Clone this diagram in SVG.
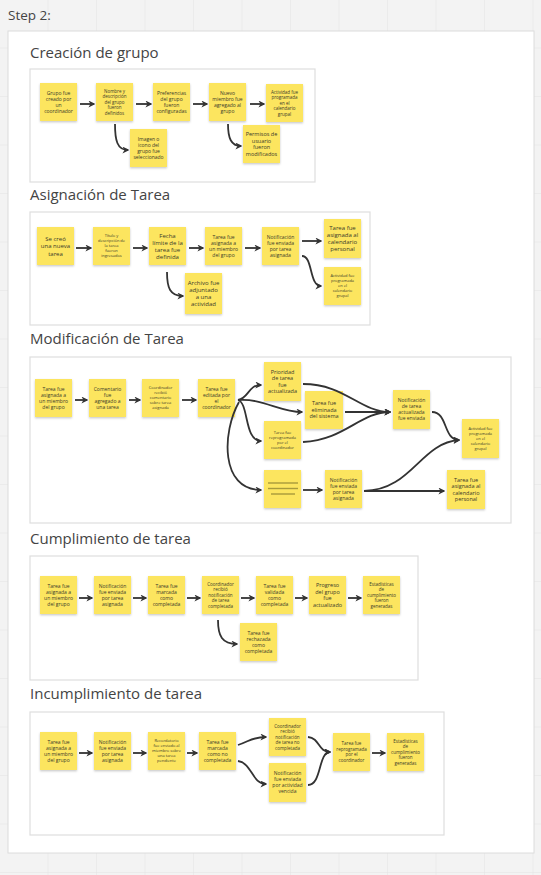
<svg xmlns="http://www.w3.org/2000/svg" width="541" height="875" viewBox="0 0 541 875">
<defs>
<pattern id="grid" x="0" y="0" width="48.5" height="48.5" patternUnits="userSpaceOnUse">
<path d="M48.5,0 V48.5 M0,48.5 H48.5" fill="none" stroke="#e3e3e3" stroke-width="1"/>
</pattern>
<filter id="sh" x="-20%" y="-20%" width="140%" height="150%">
<feDropShadow dx="0" dy="1.2" stdDeviation="0.8" flood-color="#000" flood-opacity="0.22"/>
</filter>
<marker id="ah" viewBox="0 0 10 10" refX="8" refY="5" markerWidth="7" markerHeight="7" markerUnits="userSpaceOnUse" orient="auto">
<path d="M0,0 L10,5 L0,10 L3,5 z" fill="#333"/>
</marker>
<style>
.frame{fill:#fff;stroke:#dedede;stroke-width:1.2}
.n{fill:#fce55e;filter:url(#sh)}
.t{font-family:"Open Sans","Noto Sans",sans-serif;fill:#3a3a2a;text-anchor:middle}
.f5{font-size:5px}
.f45{font-size:4.5px}
.f4{font-size:4px}
.f55{font-size:5.5px}
.f6{font-size:6px}
.title{font-family:"Open Sans","Noto Sans",sans-serif;font-size:15px;fill:#444}
.c path{fill:none;stroke:#333;stroke-width:1.8;marker-end:url(#ah)}
.ph{stroke:#a89a3c;stroke-width:1.4}
</style>
</defs>
<rect width="541" height="875" fill="#f3f3f3"/>
<rect width="541" height="875" fill="url(#grid)"/>
<text x="8" y="20" style="font-family:'Open Sans','Noto Sans',sans-serif;font-size:13.5px;fill:#444">Step 2:</text>
<rect x="8" y="31" width="526" height="822" fill="#fff" stroke="#dcdcdc" stroke-width="1"/>

<!-- Section 1 -->
<g id="sec1">
<text class="title" x="30" y="58">Creación de grupo</text>
<rect class="frame" x="30" y="69" width="285" height="113"/>
</g>
<g id="s1a"><rect class="n" x="40" y="83" width="37" height="38"/><text class="t f5" x="58.5" y="94.8"><tspan x="58.5">Grupo fue</tspan><tspan x="58.5" dy="6">creado por</tspan><tspan x="58.5" dy="6">un</tspan><tspan x="58.5" dy="6">coordinador</tspan></text></g>
<g id="s1b"><rect class="n" x="96" y="83" width="37" height="38"/><text class="t f45" x="114.5" y="92.6"><tspan x="114.5">Nombre y</tspan><tspan x="114.5" dy="5.5">descripción</tspan><tspan x="114.5" dy="5.5">del grupo</tspan><tspan x="114.5" dy="5.5">fueron</tspan><tspan x="114.5" dy="5.5">definidos</tspan></text></g>
<g id="s1c"><rect class="n" x="153" y="83" width="37" height="38"/><text class="t f5" x="171.5" y="94.8"><tspan x="171.5">Preferencias</tspan><tspan x="171.5" dy="6">del grupo</tspan><tspan x="171.5" dy="6">fueron</tspan><tspan x="171.5" dy="6">configuradas</tspan></text></g>
<g id="s1d"><rect class="n" x="209" y="83" width="37" height="38"/><text class="t f5" x="227.5" y="94.8"><tspan x="227.5">Nuevo</tspan><tspan x="227.5" dy="6">miembro fue</tspan><tspan x="227.5" dy="6">agregado al</tspan><tspan x="227.5" dy="6">grupo</tspan></text></g>
<g id="s1e"><rect class="n" x="266" y="84" width="37" height="38"/><text class="t f45" x="284.5" y="93.6"><tspan x="284.5">Actividad fue</tspan><tspan x="284.5" dy="5.5">programada</tspan><tspan x="284.5" dy="5.5">en el</tspan><tspan x="284.5" dy="5.5">calendario</tspan><tspan x="284.5" dy="5.5">grupal</tspan></text></g>
<g id="s1f"><rect class="n" x="130" y="129" width="37" height="38"/><text class="t f5" x="148.5" y="140.8"><tspan x="148.5">Imagen o</tspan><tspan x="148.5" dy="6">icono del</tspan><tspan x="148.5" dy="6">grupo fue</tspan><tspan x="148.5" dy="6">seleccionado</tspan></text></g>
<g id="s1g"><rect class="n" x="243" y="125" width="37" height="38"/><text class="t f55" x="261.5" y="136.2"><tspan x="261.5">Permisos de</tspan><tspan x="261.5" dy="6.5">usuario</tspan><tspan x="261.5" dy="6.5">fueron</tspan><tspan x="261.5" dy="6.5">modificados</tspan></text></g>

<!-- Section 2 -->
<g id="sec2">
<text class="title" x="30" y="200">Asignación de Tarea</text>
<rect class="frame" x="30" y="212" width="340" height="113"/>
</g>
<g id="s2a"><rect class="n" x="37" y="227" width="37" height="38"/><text class="t f6" x="55.5" y="240.6"><tspan x="55.5">Se creó</tspan><tspan x="55.5" dy="7.5">una nueva</tspan><tspan x="55.5" dy="7.5">tarea</tspan></text></g>
<g id="s2b"><rect class="n" x="93" y="227" width="37" height="38"/><text class="t f4" x="111.5" y="237.4"><tspan x="111.5">Título y</tspan><tspan x="111.5" dy="5">descripción de</tspan><tspan x="111.5" dy="5">la tarea</tspan><tspan x="111.5" dy="5">fueron</tspan><tspan x="111.5" dy="5">ingresados</tspan></text></g>
<g id="s2c"><rect class="n" x="149" y="227" width="37" height="38"/><text class="t f6" x="167.5" y="237.6"><tspan x="167.5">Fecha</tspan><tspan x="167.5" dy="7">límite de la</tspan><tspan x="167.5" dy="7">tarea fue</tspan><tspan x="167.5" dy="7">definida</tspan></text></g>
<g id="s2d"><rect class="n" x="205" y="227" width="37" height="38"/><text class="t f5" x="223.5" y="238.8"><tspan x="223.5">Tarea fue</tspan><tspan x="223.5" dy="6">asignada a</tspan><tspan x="223.5" dy="6">un miembro</tspan><tspan x="223.5" dy="6">del grupo</tspan></text></g>
<g id="s2e"><rect class="n" x="262" y="227" width="37" height="38"/><text class="t f5" x="280.5" y="238.8"><tspan x="280.5">Notificación</tspan><tspan x="280.5" dy="6">fue enviada</tspan><tspan x="280.5" dy="6">por tarea</tspan><tspan x="280.5" dy="6">asignada</tspan></text></g>
<g id="s2f"><rect class="n" x="324" y="219" width="37" height="39"/><text class="t f6" x="342.5" y="230.1"><tspan x="342.5">Tarea fue</tspan><tspan x="342.5" dy="7">asignada al</tspan><tspan x="342.5" dy="7">calendario</tspan><tspan x="342.5" dy="7">personal</tspan></text></g>
<g id="s2g"><rect class="n" x="324" y="267" width="37" height="38"/><text class="t f4" x="342.5" y="276.9"><tspan x="342.5">Actividad fue</tspan><tspan x="342.5" dy="5">programada</tspan><tspan x="342.5" dy="5">en el</tspan><tspan x="342.5" dy="5">calendario</tspan><tspan x="342.5" dy="5">grupal</tspan></text></g>
<g id="s2h"><rect class="n" x="185" y="273" width="37" height="41"/><text class="t f6" x="203.5" y="285.1"><tspan x="203.5">Archivo fue</tspan><tspan x="203.5" dy="7">adjuntado</tspan><tspan x="203.5" dy="7">a una</tspan><tspan x="203.5" dy="7">actividad</tspan></text></g>

<!-- Section 3 -->
<g id="sec3">
<text class="title" x="30" y="344">Modificación de Tarea</text>
<rect class="frame" x="30" y="357" width="481" height="166"/>
</g>
<g id="s3a"><rect class="n" x="35" y="379" width="37" height="38"/><text class="t f5" x="53.5" y="390.8"><tspan x="53.5">Tarea fue</tspan><tspan x="53.5" dy="6">asignada a</tspan><tspan x="53.5" dy="6">un miembro</tspan><tspan x="53.5" dy="6">del grupo</tspan></text></g>
<g id="s3b"><rect class="n" x="89" y="379" width="37" height="38"/><text class="t f5" x="107.5" y="390.8"><tspan x="107.5">Comentario</tspan><tspan x="107.5" dy="6">fue</tspan><tspan x="107.5" dy="6">agregado a</tspan><tspan x="107.5" dy="6">una tarea</tspan></text></g>
<g id="s3c"><rect class="n" x="142" y="379" width="37" height="38"/><text class="t f4" x="160.5" y="389.4"><tspan x="160.5">Coordinador</tspan><tspan x="160.5" dy="5">recibió</tspan><tspan x="160.5" dy="5">comentario</tspan><tspan x="160.5" dy="5">sobre tarea</tspan><tspan x="160.5" dy="5">asignada</tspan></text></g>
<g id="s3d"><rect class="n" x="198" y="379" width="37" height="38"/><text class="t f5" x="216.5" y="390.8"><tspan x="216.5">Tarea fue</tspan><tspan x="216.5" dy="6">editada por</tspan><tspan x="216.5" dy="6">el</tspan><tspan x="216.5" dy="6">coordinador</tspan></text></g>
<g id="s3e"><rect class="n" x="264" y="362" width="37" height="39"/><text class="t f55" x="282.5" y="373.7"><tspan x="282.5">Prioridad</tspan><tspan x="282.5" dy="6.5">de tarea</tspan><tspan x="282.5" dy="6.5">fue</tspan><tspan x="282.5" dy="6.5">actualizada</tspan></text></g>
<g id="s3f"><rect class="n" x="305" y="391" width="38" height="38"/><text class="t f55" x="324" y="405.4"><tspan x="324">Tarea fue</tspan><tspan x="324" dy="6.5">eliminada</tspan><tspan x="324" dy="6.5">del sistema</tspan></text></g>
<g id="s3g"><rect class="n" x="264" y="421" width="37" height="38"/><text class="t f4" x="282.5" y="433.9"><tspan x="282.5">Tarea fue</tspan><tspan x="282.5" dy="5">reprogramada</tspan><tspan x="282.5" dy="5">por el</tspan><tspan x="282.5" dy="5">coordinador</tspan></text></g>
<g id="s3h"><rect class="n" x="264" y="470" width="37" height="38"/><line class="ph" x1="268" y1="483" x2="298" y2="483"/><line class="ph" x1="268" y1="488.5" x2="298" y2="488.5"/><line class="ph" x1="271" y1="494" x2="295" y2="494"/></g>
<g id="s3i"><rect class="n" x="325" y="470" width="37" height="38"/><text class="t f5" x="343.5" y="481.8"><tspan x="343.5">Notificación</tspan><tspan x="343.5" dy="6">fue enviada</tspan><tspan x="343.5" dy="6">por tarea</tspan><tspan x="343.5" dy="6">asignada</tspan></text></g>
<g id="s3j"><rect class="n" x="393" y="390" width="37" height="39"/><text class="t f5" x="411.5" y="402.3"><tspan x="411.5">Notificación</tspan><tspan x="411.5" dy="6">de tarea</tspan><tspan x="411.5" dy="6">actualizada</tspan><tspan x="411.5" dy="6">fue enviada</tspan></text></g>
<g id="s3k"><rect class="n" x="462" y="419" width="37" height="39"/><text class="t f4" x="480.5" y="429.9"><tspan x="480.5">Actividad fue</tspan><tspan x="480.5" dy="5">programada</tspan><tspan x="480.5" dy="5">en el</tspan><tspan x="480.5" dy="5">calendario</tspan><tspan x="480.5" dy="5">grupal</tspan></text></g>
<g id="s3l"><rect class="n" x="447" y="470" width="38" height="39"/><text class="t f55" x="466" y="481.7"><tspan x="466">Tarea fue</tspan><tspan x="466" dy="6.5">asignada al</tspan><tspan x="466" dy="6.5">calendario</tspan><tspan x="466" dy="6.5">personal</tspan></text></g>

<!-- Section 4 -->
<g id="sec4">
<text class="title" x="30" y="544">Cumplimiento de tarea</text>
<rect class="frame" x="30" y="556" width="388" height="124"/>
</g>
<g id="s4a"><rect class="n" x="40" y="576" width="37" height="38"/><text class="t f5" x="58.5" y="587.8"><tspan x="58.5">Tarea fue</tspan><tspan x="58.5" dy="6">asignada a</tspan><tspan x="58.5" dy="6">un miembro</tspan><tspan x="58.5" dy="6">del grupo</tspan></text></g>
<g id="s4b"><rect class="n" x="94" y="576" width="37" height="38"/><text class="t f5" x="112.5" y="587.8"><tspan x="112.5">Notificación</tspan><tspan x="112.5" dy="6">fue enviada</tspan><tspan x="112.5" dy="6">por tarea</tspan><tspan x="112.5" dy="6">asignada</tspan></text></g>
<g id="s4c"><rect class="n" x="148" y="576" width="37" height="38"/><text class="t f5" x="166.5" y="587.8"><tspan x="166.5">Tarea fue</tspan><tspan x="166.5" dy="6">marcada</tspan><tspan x="166.5" dy="6">como</tspan><tspan x="166.5" dy="6">completada</tspan></text></g>
<g id="s4d"><rect class="n" x="202" y="576" width="37" height="38"/><text class="t f45" x="220.5" y="585.6"><tspan x="220.5">Coordinador</tspan><tspan x="220.5" dy="5.5">recibió</tspan><tspan x="220.5" dy="5.5">notificación</tspan><tspan x="220.5" dy="5.5">de tarea</tspan><tspan x="220.5" dy="5.5">completada</tspan></text></g>
<g id="s4e"><rect class="n" x="256" y="576" width="37" height="38"/><text class="t f5" x="274.5" y="587.8"><tspan x="274.5">Tarea fue</tspan><tspan x="274.5" dy="6">validada</tspan><tspan x="274.5" dy="6">como</tspan><tspan x="274.5" dy="6">completada</tspan></text></g>
<g id="s4f"><rect class="n" x="309" y="576" width="37" height="38"/><text class="t f55" x="327.5" y="587.2"><tspan x="327.5">Progreso</tspan><tspan x="327.5" dy="6.5">del grupo</tspan><tspan x="327.5" dy="6.5">fue</tspan><tspan x="327.5" dy="6.5">actualizado</tspan></text></g>
<g id="s4g"><rect class="n" x="363" y="576" width="37" height="38"/><text class="t f45" x="381.5" y="585.6"><tspan x="381.5">Estadísticas</tspan><tspan x="381.5" dy="5.5">de</tspan><tspan x="381.5" dy="5.5">cumplimiento</tspan><tspan x="381.5" dy="5.5">fueron</tspan><tspan x="381.5" dy="5.5">generadas</tspan></text></g>
<g id="s4h"><rect class="n" x="240" y="623" width="37" height="38"/><text class="t f5" x="258.5" y="634.8"><tspan x="258.5">Tarea fue</tspan><tspan x="258.5" dy="6">rechazada</tspan><tspan x="258.5" dy="6">como</tspan><tspan x="258.5" dy="6">completada</tspan></text></g>

<!-- Section 5 -->
<g id="sec5">
<text class="title" x="30" y="699">Incumplimiento de tarea</text>
<rect class="frame" x="30" y="712" width="414" height="123"/>
</g>
<g id="s5a"><rect class="n" x="40" y="732" width="37" height="38"/><text class="t f5" x="58.5" y="743.8"><tspan x="58.5">Tarea fue</tspan><tspan x="58.5" dy="6">asignada a</tspan><tspan x="58.5" dy="6">un miembro</tspan><tspan x="58.5" dy="6">del grupo</tspan></text></g>
<g id="s5b"><rect class="n" x="94" y="732" width="37" height="38"/><text class="t f5" x="112.5" y="743.8"><tspan x="112.5">Notificación</tspan><tspan x="112.5" dy="6">fue enviada</tspan><tspan x="112.5" dy="6">por tarea</tspan><tspan x="112.5" dy="6">asignada</tspan></text></g>
<g id="s5c"><rect class="n" x="148" y="732" width="37" height="38"/><text class="t f4" x="166.5" y="742.4"><tspan x="166.5">Recordatorio</tspan><tspan x="166.5" dy="5">fue enviado al</tspan><tspan x="166.5" dy="5">miembro sobre</tspan><tspan x="166.5" dy="5">una tarea</tspan><tspan x="166.5" dy="5">pendiente</tspan></text></g>
<g id="s5d"><rect class="n" x="199" y="732" width="37" height="38"/><text class="t f5" x="217.5" y="743.8"><tspan x="217.5">Tarea fue</tspan><tspan x="217.5" dy="6">marcada</tspan><tspan x="217.5" dy="6">como no</tspan><tspan x="217.5" dy="6">completada</tspan></text></g>
<g id="s5e"><rect class="n" x="269" y="718" width="37" height="38"/><text class="t f45" x="287.5" y="727.6"><tspan x="287.5">Coordinador</tspan><tspan x="287.5" dy="5.5">recibió</tspan><tspan x="287.5" dy="5.5">notificación</tspan><tspan x="287.5" dy="5.5">de tarea no</tspan><tspan x="287.5" dy="5.5">completada</tspan></text></g>
<g id="s5f"><rect class="n" x="269" y="763" width="37" height="39"/><text class="t f5" x="287.5" y="775.3"><tspan x="287.5">Notificación</tspan><tspan x="287.5" dy="6">fue enviada</tspan><tspan x="287.5" dy="6">por actividad</tspan><tspan x="287.5" dy="6">vencida</tspan></text></g>
<g id="s5g"><rect class="n" x="333" y="733" width="37" height="38"/><text class="t f45" x="351.5" y="745.4"><tspan x="351.5">Tarea fue</tspan><tspan x="351.5" dy="5.5">reprogramada</tspan><tspan x="351.5" dy="5.5">por el</tspan><tspan x="351.5" dy="5.5">coordinador</tspan></text></g>
<g id="s5h"><rect class="n" x="387" y="733" width="37" height="38"/><text class="t f45" x="405.5" y="742.6"><tspan x="405.5">Estadísticas</tspan><tspan x="405.5" dy="5.5">de</tspan><tspan x="405.5" dy="5.5">cumplimiento</tspan><tspan x="405.5" dy="5.5">fueron</tspan><tspan x="405.5" dy="5.5">generadas</tspan></text></g>

<!-- Connectors -->
<g id="connectors" class="c">
<path d="M80,104 L94,104"/>
<path d="M136,104 L151,104"/>
<path d="M193,104 L207,104"/>
<path d="M250,104 L264,104"/>
<path d="M115,124 C115,140 117,150 128,150"/>
<path d="M228,124 C228,138 231,146 241,146"/>

<path d="M76,248 L91,248"/>
<path d="M133,248 L147,248"/>
<path d="M189,248 L203,248"/>
<path d="M245,248 L260,248"/>
<path d="M302,241 L321,241"/>
<path d="M302,256 C313,256 309,286 321,286"/>
<path d="M167,272 C167,288 170,296 183,296"/>

<path d="M75,400 L87,400"/>
<path d="M129,400 L140,400"/>
<path d="M182,400 L196,400"/>
<path d="M238,400 C249,398 248,385 261,385"/>
<path d="M238,400 C262,398 280,412 302,412"/>
<path d="M238,400 C249,403 244,441 261,441"/>
<path d="M239,402 C222,432 220,490 261,490"/>
<path d="M303,384 C345,384 360,412 390,412"/>
<path d="M345,412 L390,412"/>
<path d="M303,442 C345,440 360,412 390,412"/>
<path d="M432,412 C448,412 443,440 459,440"/>
<path d="M303,490 L322,490"/>
<path d="M364,491 C412,490 420,443 459,440"/>
<path d="M364,491 L444,491"/>

<path d="M79,598 L92,598"/>
<path d="M133,598 L146,598"/>
<path d="M187,598 L200,598"/>
<path d="M241,598 L254,598"/>
<path d="M295,598 L307,598"/>
<path d="M348,598 L361,598"/>
<path d="M218,620 C218,636 222,644 237,644"/>

<path d="M79,753 L92,753"/>
<path d="M133,753 L146,753"/>
<path d="M187,753 L197,753"/>
<path d="M238,745 C250,741 252,737 266,737"/>
<path d="M238,761 C252,763 252,784 266,784"/>
<path d="M308,737 C320,738 318,752 330,752"/>
<path d="M308,785 C322,785 318,752 330,752"/>
<path d="M372,753 L385,753"/>
</g>
</svg>
